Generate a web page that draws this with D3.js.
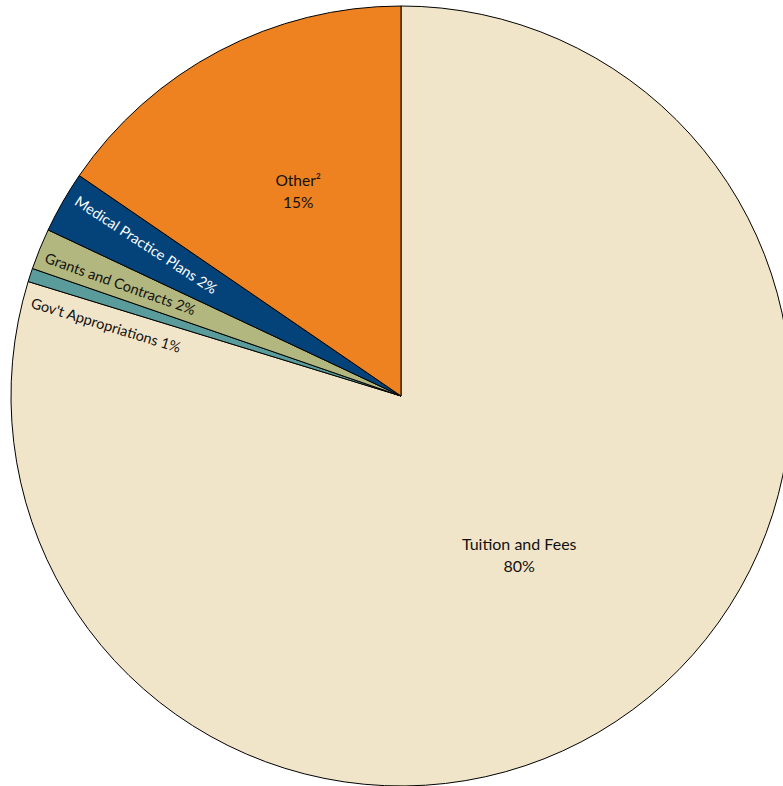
<!DOCTYPE html>
<html>
<head>
<meta charset="utf-8">
<script src="https://cdn.jsdelivr.net/npm/d3@7"></script>
<style>
  html, body { margin: 0; padding: 0; background: #ffffff; overflow: hidden; }
  svg { display: block; }
</style>
</head>
<body>
<svg id="chart" width="783" height="786"></svg>
<script>
// ---- data ----
const categories = ["Tuition and Fees", "Gov't Appropriations", "Grants and Contracts", "Medical Practice Plans", "Other²"];
const values = [79.74, 0.56, 1.70, 2.56, 15.44];
const pctLabels = ["80%", "1%", "2%", "2%", "15%"];
const colors = ["#F1E5C9", "#5A9C9B", "#B1B77E", "#04437A", "#EE8220"];
const textColors = ["#111111", "#111111", "#111111", "#ffffff", "#111111"];
// label style: "stack" = two centered lines, "rot" = single rotated line
const labelModes = ["stack", "rot", "rot", "rot", "stack"];
const labelRotation = [0, 17, 19.5, 33, 0];
const labelRadiusFrac = [0.51, 0.778, 0.775, 0.76, 0.585];
const labelAngleShift = [0, -4.6, -0.4, 0.8, 1.0]; // degrees
const labelFontSize = [16, 14.5, 14.5, 14.5, 15.5];

const W = 783, H = 786;
const cx = 401, cy = 396, R = 390;
const svg = d3.select("#chart");
const g = svg.append("g").attr("transform", `translate(${cx},${cy})`);

const data = categories.map((c, i) => ({ name: c, value: values[i], pct: pctLabels[i], i }));
const pie = d3.pie().value(d => d.value).sort(null).startAngle(0).endAngle(2 * Math.PI);
const arcs = pie(data);
const arc = d3.arc().innerRadius(0).outerRadius(R);

g.selectAll("path.slice")
  .data(arcs)
  .enter().append("path")
  .attr("class", "slice")
  .attr("d", arc)
  .attr("fill", d => colors[d.data.i])
  .attr("stroke", "#000")
  .attr("stroke-width", 1)
  .attr("stroke-linejoin", "round");

const fontFamily = "Lato, 'Open Sans', sans-serif";

arcs.forEach(a => {
  const i = a.data.i;
  const mid = (a.startAngle + a.endAngle) / 2 + labelAngleShift[i] * Math.PI / 180;
  const rr = R * labelRadiusFrac[i];
  const x = rr * Math.sin(mid), y = -rr * Math.cos(mid);
  if (labelModes[i] === "stack") {
    const t = g.append("text")
      .attr("text-anchor", "middle")
      .attr("font-family", fontFamily)
      .attr("font-size", labelFontSize[i])
      .attr("fill", textColors[i]);
    t.append("tspan").attr("x", x).attr("y", y - 11 + 5).text(a.data.name);
    t.append("tspan").attr("x", x).attr("y", y + 11 + 5).text(a.data.pct);
  } else {
    g.append("text")
      .attr("transform", `translate(${x},${y}) rotate(${labelRotation[i]})`)
      .attr("text-anchor", "middle")
      .attr("dy", "0.35em")
      .attr("font-family", fontFamily)
      .attr("font-size", labelFontSize[i])
      .attr("fill", textColors[i])
      .text(a.data.name + " " + a.data.pct);
  }
});
</script>
</body>
</html>
